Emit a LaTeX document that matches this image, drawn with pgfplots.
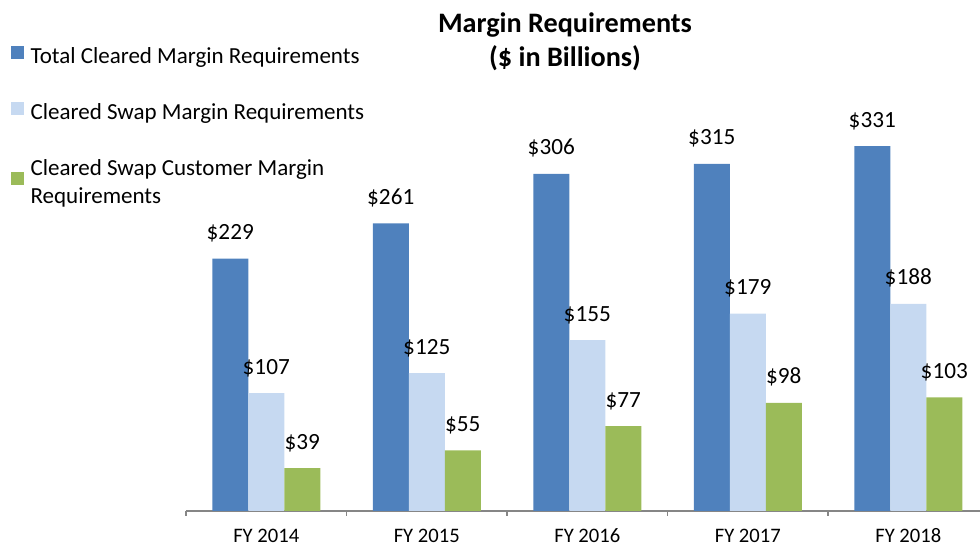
\documentclass[border=0pt]{standalone}
\usepackage{fontspec}
\setmainfont{Carlito}
\usepackage{pgfplots}
\pgfplotsset{compat=1.18}
\definecolor{cblue}{HTML}{4F81BD}
\definecolor{clight}{HTML}{C6D9F1}
\definecolor{cgreen}{HTML}{9BBB59}
\definecolor{caxis}{HTML}{868686}
\pgfplotsset{sq legend/.style={legend image code/.code={\fill[##1] (0pt,-1pt) rectangle (6.4pt,5.4pt);}}}
\begin{document}
\begin{tikzpicture}
\path[use as bounding box] (0,0) rectangle (490pt,272.5pt);
\begin{axis}[
 at={(93pt,17pt)}, anchor=south west,
 scale only axis, width=397pt, height=255.5pt,
 xmin=-0.5, xmax=4.447, ymin=0, ymax=463.7,
 axis x line=bottom, axis y line=none,
 axis line style={caxis, line width=0.75pt, -},
 ybar=0pt, bar width=18pt,
 xtick={0,1,2,3,4},
 xticklabels={FY 2014,FY 2015,FY 2016,FY 2017,FY 2018},
 major tick length=0pt,
 major x tick style={draw=none},
 minor xtick={-0.5,0.5,1.5,2.5,3.5},
 minor x tick style={caxis, line width=0.75pt},
 tick align=outside, minor tick length=2.5pt,
 xticklabel style={font=\fontsize{10.3}{12}\selectfont, anchor=base, yshift=-15.8pt, inner sep=0pt, text=black},
 /pgf/number format/assume math mode=true,
 nodes near coords={\$\pgfmathprintnumber{\pgfplotspointmeta}},
 every node near coord/.append style={font=\fontsize{11.6}{13}\selectfont, anchor=base, yshift=9.5pt, text=black},
 legend style={at={(-0.2204,0.916)}, anchor=north west, draw=none, fill=none, inner sep=0pt,
   font=\fontsize{11.5}{14}\selectfont, row sep=14.6pt, cells={align=left},
   /tikz/every odd column/.style={column sep=1.2pt}},
 legend cell align=left,
]
\addplot[fill=cblue, draw=none, sq legend] coordinates {(0,229) (1,261) (2,306) (3,315) (4,331)};
\addplot[fill=clight, draw=none, sq legend] coordinates {(0,107) (1,125) (2,155) (3,179) (4,188)};
\addplot[fill=cgreen, draw=none, sq legend] coordinates {(0,39) (1,55) (2,77) (3,98) (4,103)};
\addlegendentry{Total Cleared Margin Requirements}
\addlegendentry{Cleared Swap Margin Requirements}
\addlegendentry{Cleared Swap Customer Margin\\Requirements}
\end{axis}
\node[anchor=base, font=\fontsize{14.1}{16}\selectfont\bfseries] at (282.5pt,256pt) {Margin Requirements};
\node[anchor=base, font=\fontsize{14.1}{16}\selectfont\bfseries] at (282.5pt,239pt) {(\$ in Billions)};
\end{tikzpicture}
\end{document}
